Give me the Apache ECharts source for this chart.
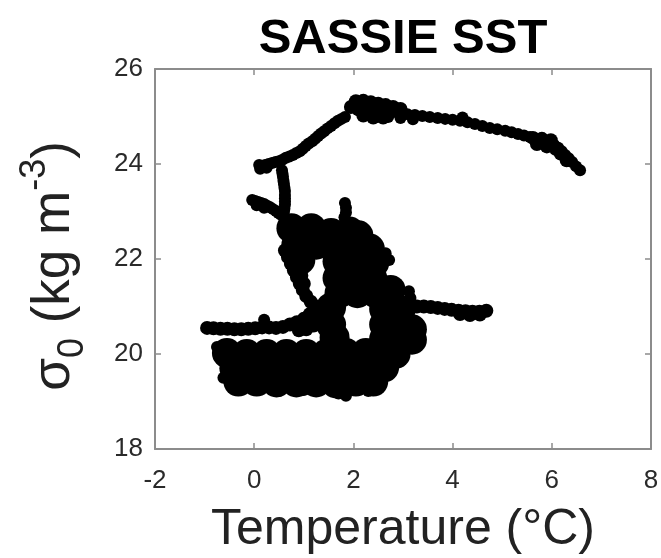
<!DOCTYPE html>
<html><head><meta charset="utf-8">
<script src="https://cdn.jsdelivr.net/npm/echarts/dist/echarts.min.js"></script>
<style>html,body{margin:0;padding:0;background:#fff}#c{width:661px;height:558px}</style>
</head><body><div id="c"></div>
<script>
// ---- data: [temperature °C, sigma0 kg m^-3] ----
const titleText = 'SASSIE SST';
const xName = 'Temperature (°C)';
const xMin = -2, xMax = 8, xStep = 2;
const yMin = 18, yMax = 26, yStep = 2;

const upperArm = [[2.34,25.14],[2.49,25.12],[2.64,25.10],[2.79,25.09],[2.94,25.07],[3.09,25.05],[3.24,25.03],[3.39,25.01],[3.54,24.99],[3.70,24.97],[3.85,24.95],[4.00,24.93],[4.15,24.91],[4.30,24.88],[4.45,24.84],[4.60,24.80],[4.75,24.76],[4.90,24.73],[5.06,24.70],[5.19,24.67],[5.32,24.63],[5.44,24.60],[5.56,24.57],[5.66,24.54],[5.76,24.51],[5.86,24.48],[5.96,24.44],[6.05,24.40],[6.13,24.34],[6.20,24.27],[6.27,24.19],[6.34,24.12],[6.41,24.04],[6.49,23.95],[6.57,23.87],
  [2.50,25.22],[2.70,25.20],[2.90,25.17],[2.50,25.00],[2.70,24.99],[2.95,24.97],[3.20,24.94],[4.20,24.98]];
const stem = [[1.83,24.99],[1.76,24.95],[1.69,24.91],[1.62,24.86],[1.55,24.80],[1.48,24.75],[1.41,24.69],[1.35,24.64],[1.29,24.59],[1.23,24.53],[1.17,24.48],[1.10,24.43],[1.04,24.38],[0.98,24.32],[0.92,24.27],[0.85,24.23],[0.78,24.19],[0.71,24.16],[0.64,24.13],[0.57,24.09],[0.50,24.06],[0.43,24.04],[0.36,24.02],[0.29,24.00],[0.22,23.98],[0.15,23.95],[0.10,23.98],[0.12,23.90],[0.25,23.92],
  [0.56,23.87],[0.57,23.80],[0.58,23.73],[0.59,23.65],[0.60,23.58],[0.61,23.50],[0.62,23.43],[0.62,23.35],[0.62,23.28],[0.62,23.21],[0.62,23.14],[0.61,23.06],[0.60,22.99]];
const branch = [[-0.04,23.24],[0.02,23.22],[0.08,23.20],[0.14,23.18],[0.20,23.16],[0.26,23.12],[0.32,23.09],[0.38,23.05],[0.44,23.01],[0.49,22.97],[0.54,22.93],[0.05,23.13],[0.20,23.08]];
const edgeDots = [[1.83,23.18],[1.85,23.08],[1.85,22.98],[1.82,22.88],
  [2.72,21.98],[2.65,22.12],[3.12,21.32],[3.15,21.18],
  [-0.30,19.28],[0.00,19.27],[0.50,19.22],[1.00,19.24],[1.70,19.17],[1.85,19.12],[2.30,19.22],
  [-0.75,20.15],[-0.68,19.92],[-0.62,19.50],[0.20,20.72]];
const blobs = [[5.62,24.55],[5.80,24.53],[5.98,24.50],[5.70,24.42],[5.90,24.37],[6.08,24.32],[6.18,24.22],[6.30,24.08],
  [1.95,25.20],[2.05,25.32],[2.20,25.33],[2.35,25.30],[2.50,25.27],[2.65,25.24],[2.80,25.20],[2.95,25.16],[2.10,25.15],[2.30,25.14],[2.45,25.10],[2.20,25.02],[2.40,24.98],[2.60,24.98]];
const strip = [[-0.95,20.55],[-0.82,20.54],[-0.68,20.53],[-0.54,20.53],[-0.40,20.52],[-0.26,20.52],[-0.12,20.53],[0.02,20.54],[0.16,20.56],[0.30,20.56],[0.44,20.55],[0.58,20.57],[0.72,20.62],[0.86,20.67],[1.00,20.74],[1.12,20.84],[0.90,20.50],[1.05,20.52],[1.20,20.60],[1.32,20.75]];
const strand = [[0.62,22.18],[0.68,22.04],[0.74,21.90],[0.80,21.76],[0.86,21.62],[0.92,21.48],[0.98,21.35],[1.05,21.22],[1.14,21.10],[1.25,21.00],[1.38,20.95],[0.80,22.05],[0.90,21.85],[0.95,21.65],[1.00,21.48]];
const eastArm = [[3.00,20.98],[3.14,20.99],[3.28,21.00],[3.42,21.00],[3.56,20.99],[3.70,20.97],[3.84,20.95],[3.98,20.93],[4.12,20.91],[4.26,20.90],[4.40,20.89],[4.54,20.89],[4.68,20.91],[4.15,20.84],[4.35,20.82],[4.55,20.83]];
const core = [[0.75,22.65],[1.15,22.65],[1.55,22.55],[1.92,22.58],[2.10,22.50],
  [0.85,22.30],[1.25,22.30],[1.65,22.30],[2.05,22.30],[2.33,22.22],
  [0.93,21.98],[1.68,21.95],[2.05,21.95],[2.42,21.92],
  [1.68,21.60],[2.05,21.60],[2.38,21.60],[2.75,21.35],
  [1.72,21.28],[2.08,21.28],[2.45,21.28],
  [1.55,20.98],[2.62,20.95],[2.95,20.92],
  [1.55,20.62],[2.62,20.62],[2.95,20.60],[3.18,20.52],
  [1.62,20.35],[2.62,20.32],[2.95,20.32],[3.18,20.30],
  [-0.55,20.02],[-0.15,20.00],[0.25,20.00],[0.65,20.00],[1.05,20.00],[1.45,20.00],[1.85,20.02],[2.25,20.02],[2.60,20.02],[2.85,20.00],
  [-0.40,19.70],[0.00,19.70],[0.40,19.70],[0.80,19.70],[1.20,19.70],[1.60,19.70],[2.00,19.70],[2.40,19.70],[2.62,19.72],
  [-0.32,19.42],[0.05,19.42],[0.45,19.40],[0.85,19.40],[1.25,19.40],[1.65,19.38],[2.05,19.42],[2.40,19.42]];

// ---- chart ----
const FONT = "'Liberation Sans', Arial, Helvetica, sans-serif";
const AX = '#8c8c8c';
function axisBase(min, max, step) {
  return {
    type: 'value', min: min, max: max, interval: step,
    axisLine: { show: true, onZero: false, lineStyle: { color: AX, width: 2 } },
    axisTick: { show: true, inside: true, length: 6, lineStyle: { color: AX, width: 1.5 } },
    splitLine: { show: false }
  };
}
const xBottom = Object.assign(axisBase(xMin, xMax, xStep), {
  position: 'bottom',
  axisLabel: { fontSize: 26, color: '#2a2a2a', margin: 19, fontFamily: FONT },
  name: xName, nameLocation: 'middle', nameGap: 56,
  nameTextStyle: { fontSize: 50, color: '#222', fontFamily: FONT }
});
const xTop = Object.assign(axisBase(xMin, xMax, xStep), { position: 'top', axisLabel: { show: false } });
const yLeft = Object.assign(axisBase(yMin, yMax, yStep), {
  position: 'left',
  axisLabel: { fontSize: 26, color: '#2a2a2a', margin: 12, fontFamily: FONT },
  name: '{t|σ}{sub|0}{t| (kg m}{sup|-3}{t|)}', nameLocation: 'middle', nameRotate: 90, nameGap: 64,
  nameTextStyle: {
    fontSize: 53, color: '#222', fontFamily: FONT, padding: [0, 14, 0, 0],
    rich: {
      t: { fontSize: 53, lineHeight: 74, verticalAlign: 'middle', color: '#222', fontFamily: FONT },
      sub: { fontSize: 36, lineHeight: 36, verticalAlign: 'bottom', color: '#222', fontFamily: FONT },
      sup: { fontSize: 36, lineHeight: 31, verticalAlign: 'top', color: '#222', fontFamily: FONT }
    }
  }
});
const yRight = Object.assign(axisBase(yMin, yMax, yStep), { position: 'right', axisLabel: { show: false } });

function dots(name, data, size) {
  return { name: name, type: 'scatter', data: data, symbol: 'circle', symbolSize: size,
    itemStyle: { color: '#000', opacity: 1, borderWidth: 0 },
    emphasis: { disabled: true }, silent: true, xAxisIndex: 0, yAxisIndex: 0 };
}

const chart = echarts.init(document.getElementById('c'), null, { renderer: 'canvas' });
chart.setOption({
  animation: false,
  backgroundColor: '#fff',
  textStyle: { fontFamily: FONT },
  grid: { left: 155, right: 10, top: 69, bottom: 109, containLabel: false, outerBoundsMode: 'none' },
  xAxis: [xBottom, xTop],
  yAxis: [yLeft, yRight],
  graphic: [{
    type: 'text', x: 403, y: 15, silent: true,
    style: { text: titleText, fontSize: 49, fontWeight: 'bold', fontFamily: FONT, fill: '#000', align: 'center', verticalAlign: 'top' }
  }],
  series: [
    dots('core', core, 30),
    dots('blobs', blobs.concat(strip, strand, eastArm), 14),
    dots('track', upperArm.concat(stem, branch, edgeDots), 12)
  ]
});
</script></body></html>
